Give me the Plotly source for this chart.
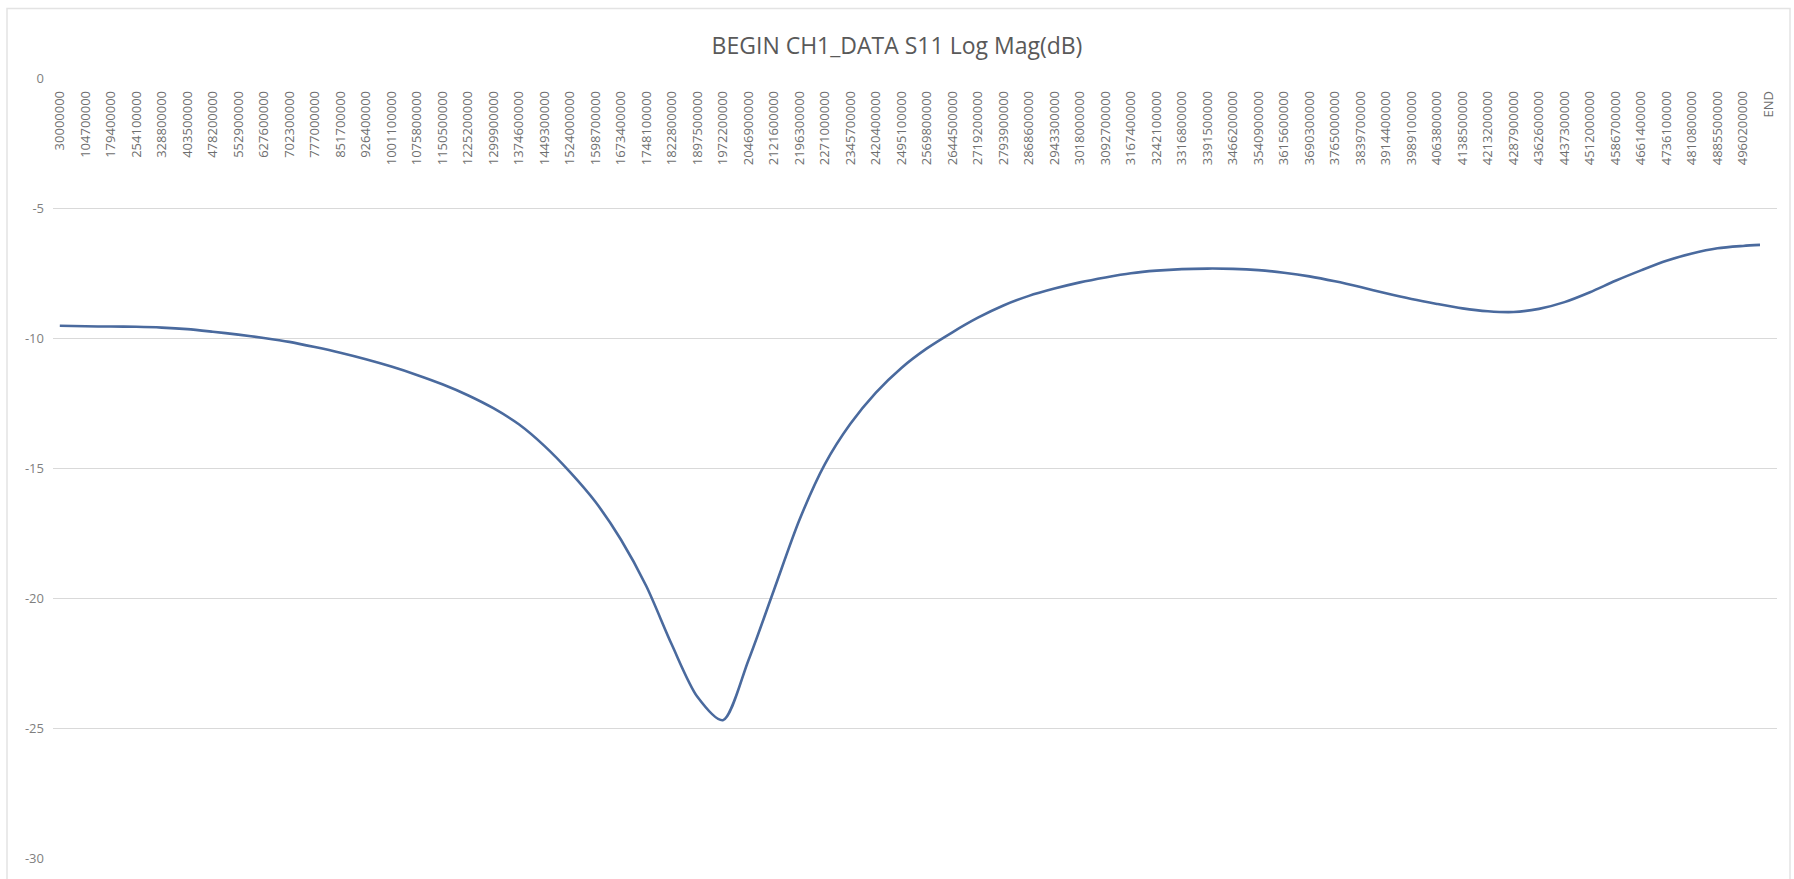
import plotly.graph_objects as go

# Frequency labels (Hz) of the labelled sweep points, every third point of a 201-point sweep
freq_labels = [
    "30000000", "104700000", "179400000", "254100000", "328800000",
    "403500000", "478200000", "552900000", "627600000", "702300000",
    "777000000", "851700000", "926400000", "1001100000", "1075800000",
    "1150500000", "1225200000", "1299900000", "1374600000", "1449300000",
    "1524000000", "1598700000", "1673400000", "1748100000", "1822800000",
    "1897500000", "1972200000", "2046900000", "2121600000", "2196300000",
    "2271000000", "2345700000", "2420400000", "2495100000", "2569800000",
    "2644500000", "2719200000", "2793900000", "2868600000", "2943300000",
    "3018000000", "3092700000", "3167400000", "3242100000", "3316800000",
    "3391500000", "3466200000", "3540900000", "3615600000", "3690300000",
    "3765000000", "3839700000", "3914400000", "3989100000", "4063800000",
    "4138500000", "4213200000", "4287900000", "4362600000", "4437300000",
    "4512000000", "4586700000", "4661400000", "4736100000", "4810800000",
    "4885500000", "4960200000",
]

# S11 log magnitude (dB) at those frequencies
s11_db = [
    -9.53, -9.55, -9.56, -9.57, -9.60, -9.66, -9.76, -9.87, -10.00, -10.15,
    -10.35, -10.57, -10.82, -11.10, -11.42, -11.78, -12.20, -12.70, -13.32, -14.15,
    -15.15, -16.30, -17.75, -19.55, -21.80, -23.80, -24.70, -22.40, -19.70, -17.00,
    -14.85, -13.30, -12.10, -11.15, -10.40, -9.78, -9.22, -8.75, -8.38, -8.10,
    -7.86, -7.67, -7.51, -7.41, -7.35, -7.33, -7.34, -7.39, -7.49, -7.63,
    -7.82, -8.04, -8.28, -8.50, -8.69, -8.86, -8.97, -9.00, -8.88, -8.62,
    -8.24, -7.80, -7.40, -7.03, -6.75, -6.55, -6.46,
]

# Last sweep point and the trailing "END" row of the sheet
stop_freq_hz = 5010000000
stop_db = -6.42
end_label = "END"
end_pos_hz = 5034900000

y_ticks = [0, -5, -10, -15, -20, -25, -30]
y_ticktext = ["0", "-5", "-10", "-15", "-20", "-25", "-30"]

title_text = "BEGIN CH1_DATA S11 Log Mag(dB)"

x_vals = [int(f) for f in freq_labels] + [stop_freq_hz]
y_vals = s11_db + [stop_db]

fig = go.Figure()
fig.add_trace(go.Scatter(
    x=x_vals,
    y=y_vals,
    mode="lines",
    line=dict(color="#4A6A9E", width=2.6, shape="spline", smoothing=0.8),
    showlegend=False,
    hoverinfo="x+y",
))

grid = "#D9D9D9"
fig.update_layout(
    width=1794,
    height=879,
    margin=dict(l=53, r=17, t=78, b=16),
    paper_bgcolor="white",
    plot_bgcolor="white",
    font=dict(family="Open Sans, Lato, sans-serif", color="#595959"),
    title=dict(
        text=title_text,
        x=0.5, xanchor="center", xref="container",
        y=1 - 46 / 879, yanchor="middle", yref="container",
        font=dict(size=23, color="#595959"),
    ),
    xaxis=dict(
        range=[10080000, 5059800000],
        tickvals=[int(f) for f in freq_labels] + [end_pos_hz],
        ticktext=freq_labels + [end_label],
        tickangle=-90,
        tickfont=dict(size=13, color="#6E6E6E"),
        ticks="",
        showgrid=False,
        zeroline=False,
        showline=False,
        anchor="free",
        position=0.988,
        side="bottom",
    ),
    yaxis=dict(
        range=[-30, 0],
        tickvals=y_ticks,
        ticktext=y_ticktext,
        tickfont=dict(size=13, color="#7F7F7F"),
        ticks="",
        showgrid=True,
        gridcolor=grid,
        gridwidth=1,
        zeroline=False,
        showline=False,
        ticklabelstandoff=8,
    ),
    shapes=[
        dict(type="rect", xref="paper", yref="paper",
             x0=(7 - 53) / 1724, x1=(1790 - 53) / 1724,
             y0=-0.05, y1=(863 - 8) / 785,
             line=dict(color="#E3E3E3", width=1.5), fillcolor="rgba(0,0,0,0)",
             layer="below"),
    ],
)

fig.write_html("out.html")
